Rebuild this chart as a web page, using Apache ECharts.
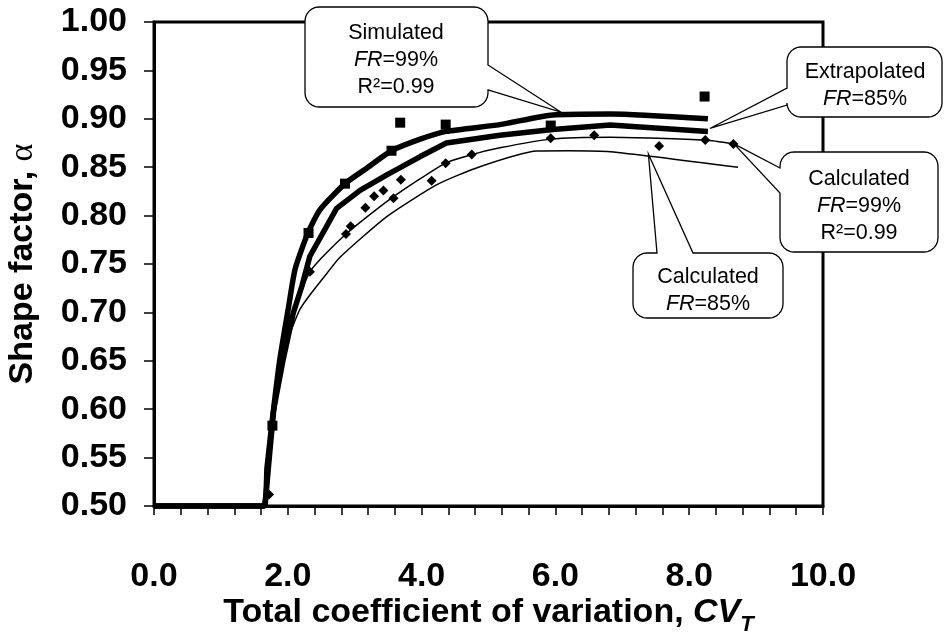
<!DOCTYPE html>
<html>
<head>
<meta charset="utf-8">
<title>Shape factor vs CV</title>
<script src="https://cdn.jsdelivr.net/npm/echarts@6/dist/echarts.min.js"></script>
<style>
html, body { margin: 0; padding: 0; background: #fff; }
#chart { width: 946px; height: 636px; }
</style>
</head>
<body>
<div id="chart"></div>
<script>
// simulated points (squares)
var simX = [1.77, 2.31, 2.855, 3.55, 3.68, 4.36, 5.93, 8.23];
var simY = [0.583, 0.782, 0.833, 0.867, 0.896, 0.894, 0.893, 0.923];

// calculated points (diamonds)
var calcX = [1.72, 2.03, 2.33, 2.87, 2.94, 3.16, 3.29, 3.43, 3.58, 3.69, 4.15, 4.36, 4.75, 5.93, 6.58, 7.55, 8.24, 8.66];
var calcY = [0.512, 0.692, 0.742, 0.781, 0.789, 0.808, 0.820, 0.826, 0.818, 0.837, 0.836, 0.854, 0.863, 0.880, 0.883, 0.872, 0.878, 0.874];

// simulated fit, FR=99% (thick)
var simFitX = [0, 1.63, 1.69, 1.77, 1.88, 2.01, 2.11, 2.30, 2.48, 2.855, 3.18, 3.55, 3.98, 4.37, 5.17, 5.96, 6.83, 8.28];
var simFitY = [0.500, 0.500, 0.540, 0.590, 0.651, 0.705, 0.745, 0.782, 0.806, 0.833, 0.849, 0.867, 0.879, 0.887, 0.894, 0.904, 0.905, 0.900];

// extrapolated, FR=85% (thick)
var extFitX = [0, 1.66, 1.71, 1.79, 1.93, 2.08, 2.21, 2.33, 2.73, 3.08, 3.48, 3.98, 4.37, 5.17, 5.96, 6.82, 8.28];
var extFitY = [0.500, 0.500, 0.540, 0.600, 0.651, 0.699, 0.727, 0.758, 0.8075, 0.826, 0.842, 0.861, 0.875, 0.883, 0.889, 0.8936, 0.887];

// calculated fit, FR=99% (thin)
var calc99X = [1.66, 1.72, 1.80, 1.92, 2.06, 2.33, 2.855, 3.55, 4.35, 4.75, 5.17, 5.93, 6.82, 8.24, 8.66];
var calc99Y = [0.500, 0.530, 0.600, 0.655, 0.692, 0.742, 0.780, 0.818, 0.854, 0.863, 0.870, 0.879, 0.881, 0.878, 0.874];

// calculated, FR=85% (thin)
var calc85X = [1.66, 1.72, 1.80, 1.91, 2.00, 2.18, 2.33, 2.58, 2.78, 3.48, 4.23, 4.87, 5.72, 6.20, 6.82, 8.73];
var calc85Y = [0.500, 0.540, 0.590, 0.644, 0.672, 0.703, 0.718, 0.740, 0.757, 0.799, 0.832, 0.8505, 0.8667, 0.867, 0.866, 0.850];

// callout texts and where they point (data coords)
var noteText = [
  'Simulated\n{i|FR}=99%\nR\u00b2=0.99',
  'Extrapolated\n{i|FR}=85%',
  'Calculated\n{i|FR}=99%\nR\u00b2=0.99',
  'Calculated\n{i|FR}=85%'
];
var noteTipX = [6.08, 8.31, 8.67, 7.39];
var noteTipY = [0.907, 0.890, 0.874, 0.8636];

function pairs(xs, ys) {
  return xs.map(function (x, i) { return [x, ys[i]]; });
}

var FONT = 'Liberation Sans, Arial, sans-serif';

var chart = echarts.init(document.getElementById('chart'));

chart.setOption({
  animation: false,
  backgroundColor: '#fff',
  grid: {
    left: 154, right: 123, top: 22, bottom: 130,
    outerBoundsMode: 'none', containLabel: false,
    show: true, borderColor: '#000', borderWidth: 3
  },
  xAxis: {
    type: 'value', min: 0, max: 10, interval: 2,
    axisLine: { show: true, onZero: false, lineStyle: { color: '#000', width: 3 } },
    axisTick: { show: true, inside: false, length: 9, lineStyle: { color: '#000', width: 1.5 } },
    minorTick: { show: true, splitNumber: 5, length: 9, lineStyle: { color: '#000', width: 1.5 } },
    splitLine: { show: false },
    axisLabel: {
      margin: 54, fontSize: 34, fontWeight: 'bold', fontFamily: FONT, color: '#000',
      formatter: function (v) { return v.toFixed(1); }
    },
    name: 'Total coefficient of variation, {i|CV}{s|T}',
    nameLocation: 'middle',
    nameGap: 84,
    nameMoveOverlap: false,
    nameTextStyle: {
      fontSize: 34, fontWeight: 'bold', fontFamily: FONT, color: '#000', lineHeight: 46,
      rich: {
        i: { fontSize: 34, fontWeight: 'bold', fontStyle: 'italic', fontFamily: FONT, color: '#000' },
        s: { fontSize: 22, fontWeight: 'bold', fontStyle: 'italic', fontFamily: FONT, color: '#000', verticalAlign: 'bottom', lineHeight: 22 }
      }
    }
  },
  yAxis: {
    type: 'value', min: 0.5, max: 1.0, interval: 0.05,
    axisLine: { show: true, onZero: false, lineStyle: { color: '#000', width: 3 } },
    axisTick: { show: true, inside: false, length: 10, lineStyle: { color: '#000', width: 1.5 } },
    splitLine: { show: false },
    axisLabel: {
      margin: 27, fontSize: 34, fontWeight: 'bold', fontFamily: FONT, color: '#000',
      formatter: function (v) { return v.toFixed(2); }
    },
    name: 'Shape factor, {a|\u03b1}',
    nameLocation: 'middle',
    nameRotate: 90,
    nameGap: 114,
    nameTextStyle: {
      fontSize: 34, fontWeight: 'bold', fontFamily: FONT, color: '#000',
      rich: {
        a: { fontSize: 34, fontWeight: 'normal', fontFamily: 'Liberation Serif, serif', color: '#000' }
      }
    }
  },
  series: [
    {
      name: 'Simulated FR=99%', type: 'line', data: pairs(simFitX, simFitY),
      showSymbol: false, smooth: 0.2, clip: false, z: 3,
      lineStyle: { color: '#000', width: 5.5 }
    },
    {
      name: 'Extrapolated FR=85%', type: 'line', data: pairs(extFitX, extFitY),
      showSymbol: false, smooth: false, clip: false, z: 3,
      lineStyle: { color: '#000', width: 5.5 }
    },
    {
      name: 'Calculated FR=99%', type: 'line', data: pairs(calc99X, calc99Y),
      showSymbol: false, smooth: 0.2, z: 3,
      lineStyle: { color: '#000', width: 1.5 }
    },
    {
      name: 'Calculated FR=85%', type: 'line', data: pairs(calc85X, calc85Y),
      showSymbol: false, smooth: 0.2, z: 3,
      lineStyle: { color: '#000', width: 1.5 }
    },
    {
      name: 'Simulated', type: 'scatter', data: pairs(simX, simY),
      symbol: 'rect', symbolSize: 10, z: 4,
      itemStyle: { color: '#000', opacity: 1 }
    },
    {
      name: 'Calculated', type: 'scatter', data: pairs(calcX, calcY),
      symbol: 'diamond', symbolSize: 10, z: 4,
      itemStyle: { color: '#000', opacity: 1 }
    }
  ]
});

// callout boxes (pixel layout) : box, side of the pointer, pointer base
var boxes = [
  { x: 305, y: 7, w: 183, h: 100, side: 'right', b: [65, 90], tx: 396, ty: 60 },
  { x: 787, y: 47, w: 155, h: 70, side: 'left', b: [88, 105], tx: 865, ty: 86 },
  { x: 780, y: 152, w: 158, h: 100, side: 'left', b: [168, 193], tx: 859, ty: 206 },
  { x: 633, y: 253, w: 150, h: 65, side: 'top', b: [657, 693], tx: 708, ty: 291 }
];

function corner(pts, cx, cy, r, a0, a1) {
  for (var k = 0; k <= 6; k++) {
    var a = (a0 + (a1 - a0) * k / 6) * Math.PI / 180;
    pts.push([cx + r * Math.cos(a), cy + r * Math.sin(a)]);
  }
}

function calloutPoints(bx, tip) {
  var x = bx.x, y = bx.y, w = bx.w, h = bx.h, r = 14, pts = [];
  if (bx.side === 'top') { pts.push([bx.b[0], y], tip, [bx.b[1], y]); }
  corner(pts, x + w - r, y + r, r, -90, 0);
  if (bx.side === 'right') { pts.push([x + w, bx.b[0]], tip, [x + w, bx.b[1]]); }
  corner(pts, x + w - r, y + h - r, r, 0, 90);
  corner(pts, x + r, y + h - r, r, 90, 180);
  if (bx.side === 'left') { pts.push([x, bx.b[1]], tip, [x, bx.b[0]]); }
  corner(pts, x + r, y + r, r, 180, 270);
  return pts;
}

var graphics = [];
boxes.forEach(function (bx, i) {
  var tip = chart.convertToPixel({ gridIndex: 0 }, [noteTipX[i], noteTipY[i]]);
  graphics.push({
    type: 'polygon', z: 50,
    shape: { points: calloutPoints(bx, tip) },
    style: { fill: '#fff', stroke: '#000', lineWidth: 1.3 }
  });
  graphics.push({
    type: 'text', z: 51, x: bx.tx, y: bx.ty,
    style: {
      text: noteText[i],
      align: 'center', verticalAlign: 'middle',
      textAlign: 'center', textVerticalAlign: 'middle',
      fontSize: 21.5, fontFamily: FONT, lineHeight: 27, fill: '#000',
      rich: {
        i: { fontSize: 21.5, fontStyle: 'italic', fontFamily: FONT, lineHeight: 27, fill: '#000' }
      }
    }
  });
});

chart.setOption({ graphic: graphics });
</script>
</body>
</html>
